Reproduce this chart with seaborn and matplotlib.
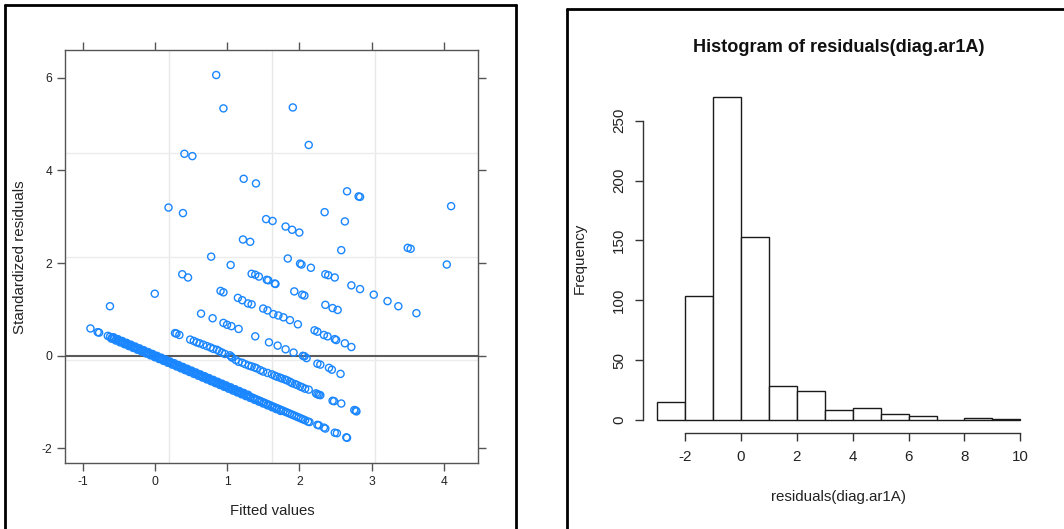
import numpy as np
import pandas as pd
import matplotlib
matplotlib.use("Agg")
import matplotlib.pyplot as plt
from matplotlib.lines import Line2D
import seaborn as sns

sns.set_theme(style="white")
plt.rcParams['font.family'] = ['Liberation Sans', 'DejaVu Sans']

# ---------------- data: left panel (fitted vs standardized residuals) ----------------
# main (dense) diagonal band
main_x = [-0.89, -0.79, -0.77,
          -0.65, -0.62, -0.59, -0.56, -0.53, -0.50, -0.47, -0.44, -0.41, -0.38, -0.35, -0.32,
          -0.29, -0.26, -0.23, -0.20, -0.17, -0.14, -0.11, -0.08, -0.05, -0.02, 0.01, 0.04,
          0.07, 0.10, 0.13, 0.16, 0.19, 0.22, 0.25, 0.28, 0.31, 0.34, 0.37, 0.40, 0.43, 0.46,
          0.49, 0.52, 0.55, 0.58, 0.61, 0.64, 0.67, 0.70, 0.73, 0.76, 0.79, 0.82, 0.85, 0.88,
          0.91, 0.94, 0.97, 1.00, 1.03, 1.06, 1.09, 1.12, 1.15, 1.18, 1.21, 1.24, 1.27, 1.30,
          1.33, 1.36, 1.39, 1.42, 1.45, 1.48, 1.51, 1.54, 1.57, 1.60, 1.63, 1.66, 1.69, 1.72,
          1.75, 1.78, 1.81, 1.84, 1.87, 1.90, 1.93, 1.96, 1.99, 2.02, 2.05, 2.08,
          -0.60, -0.54, -0.48, -0.42, -0.36, -0.30, -0.24, -0.18, -0.12, -0.06, 0.00, 0.06,
          0.12, 0.18, 0.24, 0.30, 0.36, 0.42, 0.48, 0.54, 0.60, 0.66, 0.72, 0.78, 0.84, 0.90,
          0.96, 1.02, 1.08, 1.14, 1.20, 1.26, 1.32, 1.38, 1.44, 1.50, 1.56, 1.62, 1.68, 1.74,
          -0.57, -0.51, -0.45, -0.39, -0.33, -0.27, -0.21, -0.15, -0.09, -0.03, 0.03, 0.09,
          0.15, 0.21, 0.27, 0.33, 0.39, 0.45, 0.51, 0.57, 0.63, 0.69, 0.75, 0.81, 0.87, 0.93,
          0.99, 1.05, 1.11, 1.17, 1.23, 1.29,
          2.12, 2.14, 2.25, 2.27, 2.34, 2.36, 2.49, 2.52, 2.65, 2.66]
main_y = [0.59, 0.51, 0.50,
          0.43, 0.41, 0.39, 0.37, 0.35, 0.33, 0.31, 0.29, 0.27, 0.25, 0.23, 0.21,
          0.19, 0.17, 0.15, 0.13, 0.11, 0.09, 0.07, 0.05, 0.03, 0.01, -0.01, -0.03,
          -0.05, -0.07, -0.09, -0.11, -0.13, -0.15, -0.17, -0.19, -0.21, -0.23, -0.25, -0.27, -0.29, -0.31,
          -0.33, -0.35, -0.37, -0.39, -0.41, -0.43, -0.45, -0.47, -0.49, -0.51, -0.53, -0.55, -0.57, -0.59,
          -0.61, -0.63, -0.65, -0.67, -0.69, -0.71, -0.73, -0.75, -0.77, -0.79, -0.81, -0.83, -0.85, -0.87,
          -0.89, -0.91, -0.93, -0.95, -0.97, -0.99, -1.01, -1.03, -1.05, -1.07, -1.09, -1.11, -1.13, -1.15,
          -1.17, -1.19, -1.21, -1.23, -1.25, -1.27, -1.29, -1.31, -1.33, -1.35, -1.37, -1.39,
          0.37, 0.33, 0.29, 0.25, 0.21, 0.17, 0.13, 0.09, 0.05, 0.01, -0.03, -0.07,
          -0.11, -0.15, -0.19, -0.23, -0.27, -0.31, -0.35, -0.39, -0.43, -0.47, -0.51, -0.55, -0.59, -0.63,
          -0.67, -0.71, -0.75, -0.79, -0.83, -0.87, -0.91, -0.95, -0.99, -1.03, -1.07, -1.11, -1.15, -1.19,
          0.40, 0.36, 0.32, 0.28, 0.24, 0.20, 0.16, 0.12, 0.08, 0.04, 0.00, -0.04,
          -0.08, -0.12, -0.16, -0.20, -0.24, -0.28, -0.32, -0.36, -0.40, -0.44, -0.48, -0.52, -0.56, -0.60,
          -0.64, -0.68, -0.72, -0.76, -0.80, -0.84,
          -1.42, -1.43, -1.49, -1.50, -1.55, -1.57, -1.66, -1.67, -1.76, -1.77]

# second diagonal band
band2_x = [0.28, 0.30, 0.34, 0.49, 0.54, 0.58, 0.62, 0.67, 0.72, 0.77, 0.81, 0.86, 0.89, 0.93,
           0.97, 1.04, 1.06, 1.07, 1.12, 1.16, 1.21, 1.25, 1.30, 1.34, 1.38, 1.41, 1.46, 1.50,
           1.56, 1.62, 1.66, 1.69, 1.73, 1.76, 1.80, 1.83, 1.87, 1.90, 1.94, 1.97, 2.01, 2.04,
           2.08, 2.13, 2.23, 2.25, 2.27, 2.29, 2.46, 2.48, 2.58, 2.76, 2.78, 2.79]
band2_y = [0.49, 0.48, 0.45, 0.35, 0.32, 0.29, 0.27, 0.24, 0.21, 0.18, 0.15, 0.13, 0.10, 0.07,
           0.04, 0.01, -0.02, -0.04, -0.09, -0.13, -0.15, -0.18, -0.21, -0.23, -0.25, -0.27, -0.31, -0.34,
           -0.37, -0.40, -0.43, -0.45, -0.47, -0.49, -0.51, -0.53, -0.56, -0.59, -0.61, -0.63, -0.66, -0.68,
           -0.71, -0.73, -0.81, -0.83, -0.84, -0.85, -0.97, -0.98, -1.03, -1.17, -1.18, -1.20]

# remaining scattered points
other_x = [0.85, 0.95, 1.91, 2.13, 0.41, 0.52, 1.23, 1.40, 2.66, 2.82, 2.84, 4.10, 0.19, 0.39,
           2.35, 1.54, 1.63, 2.63, 1.81, 1.90, 2.00, 1.22, 1.32, 2.58, 3.50, 3.54, 0.78, 1.84,
           1.05, 2.01, 2.03, 2.16, 4.04, 1.34, 1.39, 1.44, 0.38, 0.46, 2.36, 2.40, 2.49, 1.55,
           1.57, 1.66, 1.67, 0.00, 0.91, 0.95, 1.93, 2.04, 2.07, 2.72, 2.84, 3.03, 3.22, 3.37,
           3.62, -0.62, 1.15, 1.21, 1.29, 1.34, 2.36, 2.46, 2.53, 1.50, 1.56, 1.64, 1.71, 1.78,
           1.87, 1.98, 2.21, 2.25, 2.34, 2.39, 2.49, 2.51, 2.63, 2.72,
           0.64, 0.80, 0.95, 1.00, 1.06, 1.16, 1.39, 1.58, 1.70, 1.81, 1.92, 2.05, 2.07, 2.10,
           2.25, 2.29, 2.41, 2.45, 2.57]
other_y = [6.06, 5.34, 5.36, 4.55, 4.36, 4.31, 3.82, 3.72, 3.55, 3.44, 3.43, 3.23, 3.20, 3.08,
           3.10, 2.95, 2.91, 2.90, 2.79, 2.72, 2.66, 2.51, 2.46, 2.28, 2.33, 2.31, 2.14, 2.10,
           1.96, 1.99, 1.97, 1.90, 1.97, 1.77, 1.75, 1.71, 1.76, 1.69, 1.76, 1.74, 1.69, 1.64,
           1.63, 1.56, 1.55, 1.34, 1.40, 1.37, 1.39, 1.32, 1.30, 1.52, 1.44, 1.32, 1.18, 1.07,
           0.92, 1.07, 1.25, 1.20, 1.13, 1.11, 1.10, 1.03, 0.99, 1.02, 0.98, 0.90, 0.87, 0.83,
           0.77, 0.68, 0.55, 0.52, 0.45, 0.42, 0.36, 0.34, 0.27, 0.19,
           0.91, 0.81, 0.71, 0.67, 0.64, 0.58, 0.42, 0.29, 0.22, 0.14, 0.07, 0.00, -0.01, -0.05,
           -0.17, -0.19, -0.26, -0.30, -0.39]

grid_x = [0.196, 1.626, 3.047]
grid_y = [4.37, 2.13, -0.10]
left_xticks = [-1, 0, 1, 2, 3, 4]
left_yticks = [-2, 0, 2, 4, 6]

# ---------------- data: right panel (histogram of residuals) ----------------
bin_edges = [-3, -2, -1, 0, 1, 2, 3, 4, 5, 6, 7, 8, 9, 10]
bin_counts = [15, 104, 270, 153, 28, 24, 8, 10, 5, 3, 0, 2, 1]
hist_xticks = [-2, 0, 2, 4, 6, 8, 10]
hist_yticks = [0, 50, 100, 150, 200, 250]

scatter_df = pd.DataFrame({
    "fitted": main_x + band2_x + other_x,
    "resid": main_y + band2_y + other_y,
})
hist_df = pd.DataFrame({
    "center": [(a + b) / 2 for a, b in zip(bin_edges[:-1], bin_edges[1:])],
    "count": bin_counts,
})

W, H = 1064, 529
fig = plt.figure(figsize=(W / 100, H / 100), dpi=100)
fig.patch.set_facecolor("white")

def fx(px):
    return px / W

def fy(py):
    return 1 - py / H

# ---------------- left panel ----------------
ax1 = fig.add_axes([fx(65.3), fy(463.3), fx(478) - fx(65.3), fy(50) - fy(463.3)])
ax1.set_facecolor("white")
for gx in grid_x:
    ax1.axvline(gx, color="#e8e8e8", lw=1.0, zorder=0)
for gy in grid_y:
    ax1.axhline(gy, color="#ececec", lw=1.0, zorder=0)
ax1.axhline(0, color="#5a5a5a", lw=1.5, zorder=1)
sns.scatterplot(data=scatter_df, x="fitted", y="resid", ax=ax1, marker="o", s=26,
                facecolor="none", edgecolor="#1a86ff", linewidth=1.0, zorder=3)
ax1.set_xlim(-1.238, 4.472)
ax1.set_ylim(-2.32, 6.60)
ax1.set_xticks(left_xticks)
ax1.set_yticks(left_yticks)
ax1.set_xticklabels([str(v) for v in left_xticks])
ax1.set_yticklabels([str(v) for v in left_yticks])
ax1.tick_params(axis="both", which="both", direction="out", length=5.5, width=1.0,
                color="#555555", labelsize=8.7, labelcolor="#222222",
                top=True, right=True, bottom=True, left=True,
                labeltop=False, labelright=False, pad=4)
for sp in ax1.spines.values():
    sp.set_visible(True)
    sp.set_color("#555555")
    sp.set_linewidth(1.0)
ax1.set_xlabel("Fitted values", fontsize=10.7, color="#222222")
ax1.set_ylabel("Standardized residuals", fontsize=10.9, color="#222222")
ax1.xaxis.set_label_coords(0.501, -0.115)
ax1.xaxis.label.set_va("center")
ax1.yaxis.set_label_coords(-0.109, 0.4996)
ax1.yaxis.label.set_va("center")
ax1.grid(False)

# ---------------- right panel ----------------
ax2 = fig.add_axes([fx(642.8), fy(432.9), fx(1034.8) - fx(642.8), fy(83.9) - fy(432.9)])
ax2.set_facecolor("white")
sns.histplot(data=hist_df, x="center", weights="count", bins=bin_edges, ax=ax2,
             stat="count", fill=True, color="white", edgecolor="#1a1a1a",
             linewidth=1.0, alpha=1.0)
ax2.set_xlim(-3.52, 10.52)
ax2.set_ylim(-10.8, 280.8)
ax2.set_xticks(hist_xticks)
ax2.set_yticks(hist_yticks)
ax2.set_xticklabels([str(v) for v in hist_xticks])
ax2.set_yticklabels([str(v) for v in hist_yticks], rotation=90, va="center")
for side in ["top", "right"]:
    ax2.spines[side].set_visible(False)
for side in ["left", "bottom"]:
    ax2.spines[side].set_visible(True)
    ax2.spines[side].set_color("#333333")
    ax2.spines[side].set_linewidth(1.0)
ax2.spines["bottom"].set_bounds(-2, 10)
ax2.spines["left"].set_bounds(0, 250)
ax2.tick_params(axis="both", direction="out", length=6, width=1.0, color="#333333",
                labelsize=10.9, labelcolor="#222222", pad=6,
                top=False, right=False, bottom=True, left=True)
ax2.set_xlabel("residuals(diag.ar1A)", fontsize=10.9, color="#222222")
ax2.set_ylabel("Frequency", fontsize=10.9, color="#222222")
ax2.xaxis.set_label_coords(0.4997, -0.183)
ax2.xaxis.label.set_va("center")
ax2.yaxis.set_label_coords(-0.160, 0.50)
ax2.yaxis.label.set_va("center")
ax2.set_title("Histogram of residuals(diag.ar1A)", fontsize=13.1, fontweight="bold",
              color="#111111", y=1.104, va="center", pad=0)
ax2.grid(False)

# ---------------- screenshot panel borders ----------------
lw_b = 2.0
fig.add_artist(Line2D([fx(5), fx(5)], [fy(5), fy(540)], color="black", lw=lw_b))
fig.add_artist(Line2D([fx(5), fx(515.7)], [fy(5), fy(5)], color="black", lw=lw_b))
fig.add_artist(Line2D([fx(515.7), fx(515.7)], [fy(5), fy(540)], color="black", lw=lw_b))
fig.add_artist(Line2D([fx(566.7), fx(566.7)], [fy(9), fy(540)], color="black", lw=lw_b))
fig.add_artist(Line2D([fx(566.7), fx(1070)], [fy(9), fy(9)], color="black", lw=lw_b))

fig.savefig("out.png", dpi=100, facecolor="white")
